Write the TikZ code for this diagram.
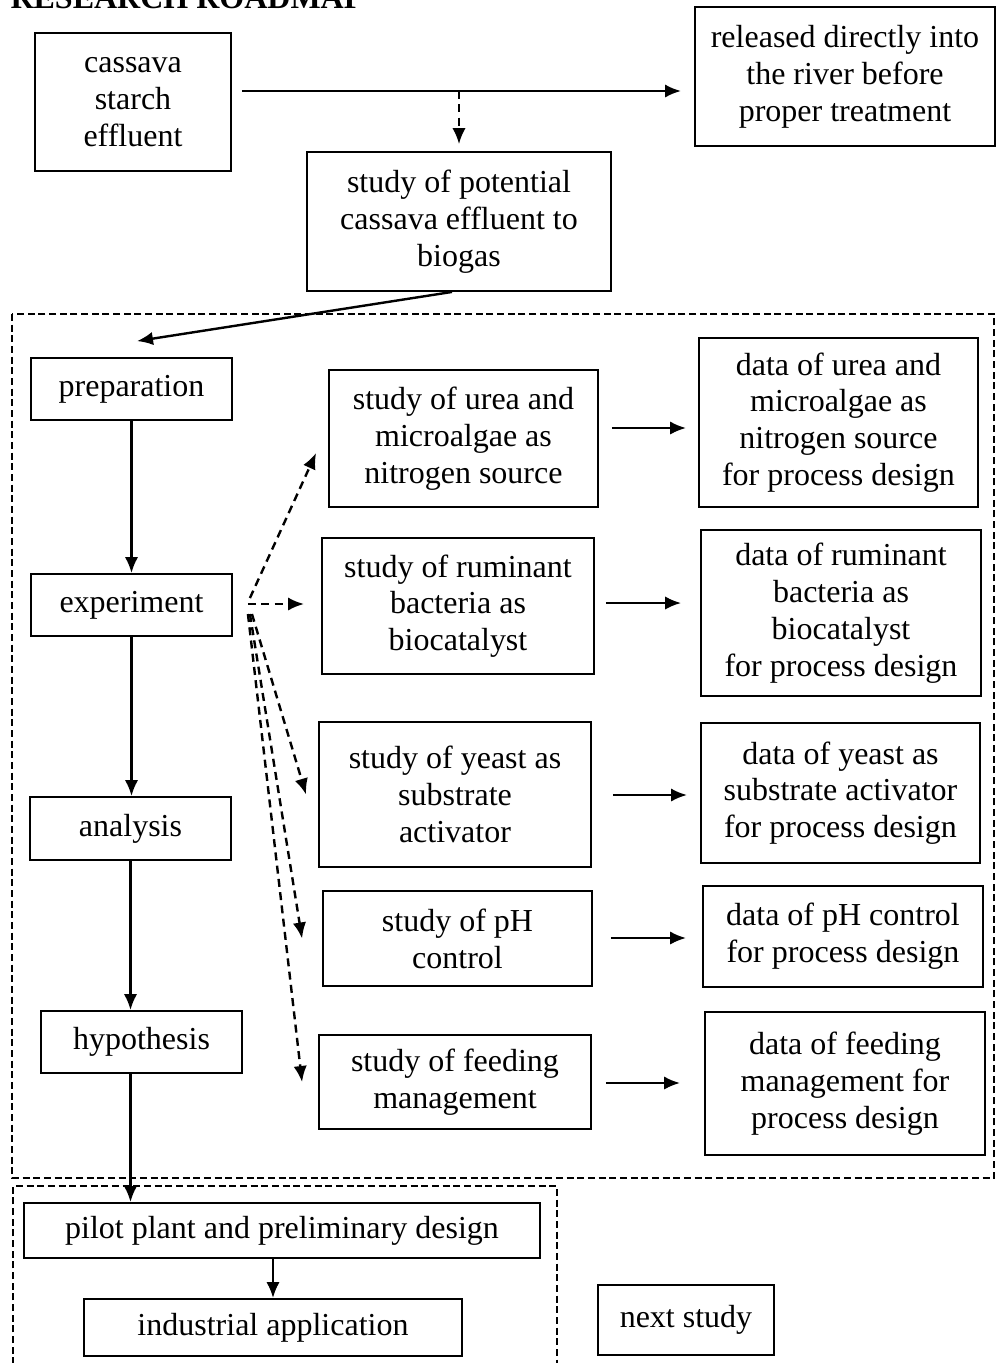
\documentclass[tikz,border=0pt]{standalone}
\usepackage{fontspec}
\setmainfont{Liberation Serif}
\usetikzlibrary{arrows.meta}
\tikzset{
  box/.style={draw, line width=0.7pt, rectangle, inner sep=0pt, align=center,
    font=\fontsize{12pt}{13.8pt}\selectfont},
  arr/.style={line width=0.9pt, -{Latex[length=6pt,width=5pt]}},
  darr/.style={arr, dash pattern=on 3pt off 2pt},
  frame/.style={line width=0.45pt, dash pattern=on 2.6pt off 1.4pt},
}
\newcommand\bx[6]{\node[box, minimum width=#4*0.375pt, minimum height=#5*0.375pt] (#1) at (#2,#3) {#6};}
\begin{document}
\begin{tikzpicture}[x=0.375pt,y=-0.375pt]
\useasboundingbox (0,0) rectangle (996,1363);
\clip (0,0) rectangle (996,1363);
% title (cut at top)
\node[anchor=base west, inner sep=0pt, font=\fontsize{12pt}{13.8pt}\selectfont\bfseries] (title) at (10,8) {RESEARCH ROADMAP};
% frames
\draw[frame] (12,314) rectangle (994,1178);
\draw[frame] (13,1375) -- (13,1186) -- (557,1186) -- (557,1375);
% boxes
\bx{cas}{133}{102}{196}{138}{cassava\\starch\\effluent}
\bx{rel}{845}{76.5}{300}{139}{released directly into\\the river before\\proper treatment}
\bx{pot}{459}{221.5}{304}{139}{study of potential\\cassava effluent to\\biogas}
\bx{prep}{131.5}{389}{201}{62}{preparation}
\bx{exp}{131.5}{605}{201}{62}{experiment}
\bx{ana}{130.5}{828.5}{201}{63}{analysis}
\bx{hyp}{141.5}{1042}{201}{62}{hypothesis}
\bx{su}{463.5}{438.5}{269}{137}{study of urea and\\microalgae as\\nitrogen source}
\bx{sr}{458}{606}{272}{136}{study of ruminant\\bacteria as\\biocatalyst}
\bx{sy}{455}{794.5}{272}{145}{study of yeast as\\substrate\\activator}
\bx{sp}{457.5}{938.5}{269}{95}{study of pH\\control}
\bx{sf}{455}{1082}{272}{94}{study of feeding\\management}
\bx{du}{838.5}{422.5}{279}{169}{data of urea and\\microalgae as\\nitrogen source\\for process design}
\bx{dr}{841}{613}{280}{166}{data of ruminant\\bacteria as\\biocatalyst\\for process design}
\bx{dy}{840.5}{793}{279}{140}{data of yeast as\\substrate activator\\for process design}
\bx{dp}{843}{936.5}{280}{101}{data of pH control\\for process design}
\bx{df}{845}{1083.5}{280}{143}{data of feeding\\management for\\process design}
\bx{pil}{282}{1230.5}{516}{55}{pilot plant and preliminary design}
\bx{ind}{273}{1327.5}{378}{57}{industrial application}
\bx{nxt}{686}{1320}{176}{70}{next study}
% top connectors
\coordinate (c1) at ([shift={(10,-11)}]cas.east);
\draw[arr, shorten >=4.9pt] (c1) -- (c1 -| rel.west);
\draw[darr, shorten >=2.6pt] (c1 -| pot.north) -- (pot.north);
\draw[arr] ([shift={(-7,0)}]pot.south) -- ([shift={(5.5,-16)}]prep.north);
% left column
\draw[arr] (prep.south) -- (exp.north);
\draw[arr] (exp.south) -- (exp.south |- ana.north);
\draw[arr] (ana.south) -- (ana.south |- hyp.north);
\draw[arr] (hyp.south -| ana.south) -- (ana.south |- pil.north);
\draw[arr] (ind.north |- pil.south) -- (ind.north);
% dashed fan from experiment
\coordinate (hub) at ([shift={(15,-1)}]exp.east);
\draw[darr] ([shift={(2,-6)}]hub) -- ([shift={(-12,14.5)}]su.west);
\draw[darr, shorten >=6.4pt] (hub) -- (hub -| sr.west);
\draw[darr] ([shift={(4,10)}]hub) -- ([shift={(-12,0)}]sy.west);
\draw[darr] ([shift={(2,10)}]hub) -- ([shift={(-20,0)}]sp.west);
\draw[darr] ([shift={(0,10)}]hub) -- ([shift={(-16,0)}]sf.west);
% study -> data arrows
\coordinate (a1) at ([shift={(13,-10.5)}]su.east);
\draw[arr, shorten >=4.5pt] (a1) -- (a1 -| du.west);
\coordinate (a2) at ([shift={(11,-3)}]sr.east);
\draw[arr, shorten >=7.1pt] (a2) -- (a2 -| dr.west);
\coordinate (a3) at ([shift={(21,0.5)}]sy.east);
\draw[arr, shorten >=4.9pt] (a3) -- (a3 -| dy.west);
\coordinate (a4) at ([shift={(18,-0.5)}]sp.east);
\draw[arr, shorten >=6pt] (a4) -- (a4 -| dp.west);
\coordinate (a5) at ([shift={(14,1)}]sf.east);
\draw[arr, shorten >=9pt] (a5) -- (a5 -| df.west);
\end{tikzpicture}
\end{document}
